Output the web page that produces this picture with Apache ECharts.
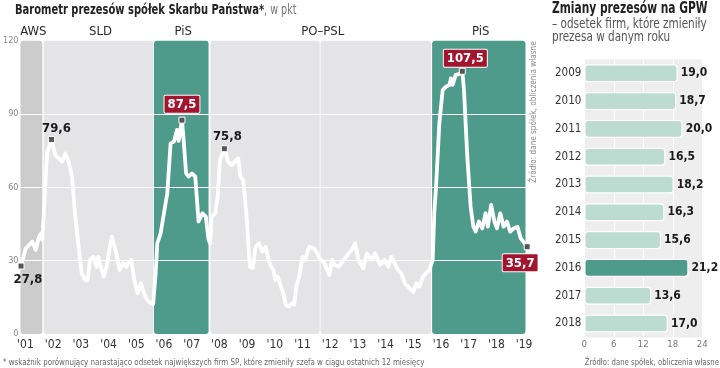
<!DOCTYPE html>
<html><head><meta charset="utf-8">
<script src="https://cdn.jsdelivr.net/npm/echarts/dist/echarts.min.js"></script>
<style>html,body{margin:0;padding:0;background:#fff}#c{width:720px;height:368px}</style>
</head><body><div id="c"></div>
<script>
// ---- DATA ----
const t = [
 2001.02,2001.19,2001.31,2001.43,2001.55,2001.67,2001.75,2001.79,2001.96,
 2002.12,2002.26,2002.38,2002.50,2002.62,2002.74,2002.86,2002.98,
 2003.10,2003.21,2003.33,2003.42,2003.51,2003.63,2003.75,2003.81,2003.93,
 2004.01,2004.11,2004.23,2004.30,2004.39,2004.46,2004.58,2004.70,2004.82,2004.89,
 2005.00,2005.11,2005.23,2005.35,2005.46,2005.58,2005.70,2005.79,2005.88,2005.94,
 2006.06,2006.18,2006.30,2006.42,2006.54,2006.65,2006.71,2006.83,2006.89,2006.98,
 2007.07,2007.19,2007.31,2007.43,2007.49,2007.57,2007.69,2007.79,2007.85,2007.90,
 2008.03,2008.12,2008.20,2008.36,2008.50,2008.62,2008.74,2008.86,2008.94,
 2009.04,2009.10,2009.18,2009.28,2009.39,2009.49,2009.61,2009.73,2009.85,2009.96,
 2010.05,2010.13,2010.20,2010.29,2010.40,2010.49,2010.58,2010.68,2010.80,2010.88,2010.96,
 2011.06,2011.18,2011.28,2011.42,2011.60,2011.71,2011.83,2011.95,
 2012.07,2012.15,2012.25,2012.35,2012.49,2012.67,2012.85,2012.96,
 2013.08,2013.20,2013.38,2013.50,2013.68,2013.80,2013.98,
 2014.15,2014.28,2014.39,2014.51,2014.63,2014.75,2014.87,2014.99,
 2015.11,2015.19,2015.29,2015.40,2015.53,2015.64,2015.76,2015.88,2015.94,
 2016.00,2016.12,2016.24,2016.36,2016.48,2016.54,2016.60,2016.71,2016.83,2016.95,
 2017.01,2017.13,2017.25,2017.35,2017.43,2017.55,2017.67,2017.79,2017.87,2017.99,
 2018.11,2018.20,2018.32,2018.44,2018.56,2018.68,2018.80,2018.94,
 2019.06,2019.15,2019.29];
const v = [
 27.8,35,36.4,37.8,34.4,39.8,41.2,38.5,73.9,
 79.6,73.2,71.9,70.5,73.9,70.5,64.4,48,
 35.7,24.8,22.1,22,30.3,31.5,27.5,31.6,26.2,
 23.5,27.5,35.7,39.8,36,33,26.2,28.9,27.5,29,
 30.3,22,16.6,20.7,16.6,13.9,12.6,12.2,24.8,37.1,
 41.2,49.4,57.6,78,78.7,83.5,79,87.5,79.4,65.7,
 64.4,65.7,64.4,46,45.4,49.4,48,38.5,37.1,48,
 49.4,56.2,71.2,75.8,70.5,69.1,70.5,71.9,64.4,
 63,56.2,45.3,27.5,27,35.7,37.1,33.7,35.7,30.3,
 27.5,26.2,22.1,23.5,19.4,16.6,11.9,11.2,12.6,12,19.4,
 23.5,31.6,30.3,35.7,35,33,30.3,29.6,
 26.2,24.2,30.3,28.2,27.5,30.3,33,34.4,
 37.1,30.3,26.9,33,30.3,33,28.2,
 30.3,27.5,31.6,28.9,26.2,24.8,20.7,19.4,
 18,17.3,20.7,19.4,23.5,24.8,26.2,30.3,50,
 60,86.2,99.8,101.2,101.9,104.6,101.9,106,106.3,107.5,
 99.8,72.5,52.1,43.9,41.9,46,43.2,49.4,43.9,52.8,
 46,43.2,49.4,43.9,46,41.9,43.2,43.9,
 39.1,37.8,35.7];
const annotYears = [2001.02, 2002.12, 2006.83, 2008.36, 2016.95, 2019.29];
const govParty = ['AWS','SLD','PiS','PO–PSL','PO–PSL','PiS'];
const govStart = [2001.0, 2001.84, 2005.82, 2007.86, 2011.83, 2015.86];
const govEnd   = [2001.79, 2005.80, 2007.79, 2011.80, 2015.82, 2019.23];
const yTicks = [0, 30, 60, 90, 120];

const barYears = ['2009','2010','2011','2012','2013','2014','2015','2016','2017','2018'];
const barValues = [19.0, 18.7, 20.0, 16.5, 18.2, 16.3, 15.6, 21.2, 13.6, 17.0];
const barTicks = [0, 6, 12, 18, 24];
const highlightYear = '2016';

// ---- STYLE ----
const F = "'DejaVu Sans Condensed','Liberation Sans Narrow',Roboto,sans-serif";
const partyColor = {'AWS':'#cccccc','SLD':'#e4e4e6','PO–PSL':'#e4e4e6','PiS':'#4e9b8c'};
const fmt = x => x.toFixed(1).replace('.', ',');

const bandLabels = [];
govParty.forEach((p,i)=>{
  if (i>0 && govParty[i-1]===p) { bandLabels[bandLabels.length-1].end = govEnd[i]; }
  else bandLabels.push({party:p, start:govStart[i], end:govEnd[i]});
});

const chart = echarts.init(document.getElementById('c'), null, {renderer:'canvas'});

const annotStyle = [
  {position:'bottom', offset:[7,0], boxed:false},
  {position:'top', offset:[5,3], boxed:false},
  {position:'top', offset:[0,0], boxed:true},
  {position:'top', offset:[3,2], boxed:false},
  {position:'top', offset:[3,3], boxed:true},
  {position:'bottom', offset:[-7,0], boxed:true}
];
const markData = annotYears.map((yr,k)=>{
  const i = t.indexOf(yr);
  const s = annotStyle[k];
  const lab = {show:true, formatter: fmt(v[i]), position:s.position, offset:s.offset, distance:4,
    fontFamily:F, fontWeight:'bold', fontSize:13};
  if (s.boxed) Object.assign(lab, {color:'#fff', backgroundColor:'#a3142e', borderColor:'#fff', borderWidth:1, padding:[2,3,1,3], borderRadius:1, lineHeight:14});
  else Object.assign(lab, {color:'#1a1a1a'});
  return {coord:[t[i], v[i]], value:v[i], label:lab};
});

const option = {
  animation:false,
  textStyle:{fontFamily:F},
  grid:[
    {left:15, top:40.7, width:515, height:293.3},
    {left:584.3, top:59.4, width:118, height:278, show:true, backgroundColor:'#eeeeee', borderWidth:0}
  ],
  xAxis:[
    {gridIndex:0, type:'value', min:2001, max:2001+515/28, interval:1,
     axisLine:{show:false}, axisTick:{show:false}, splitLine:{show:false},
     axisLabel:{formatter:x=>"'"+String(x).slice(2), color:'#333', fontSize:12, margin:5, padding:[0,0,0,10], fontFamily:F}},
    {gridIndex:1, type:'value', min:barTicks[0], max:barTicks[barTicks.length-1], interval:6,
     axisLine:{show:false}, axisTick:{show:false},
     splitLine:{show:true, lineStyle:{color:'#ffffff', width:1}},
     axisLabel:{color:'#777', fontSize:9.5, margin:2, fontFamily:F}}
  ],
  yAxis:[
    {gridIndex:0, type:'value', min:yTicks[0], max:yTicks[yTicks.length-1], interval:30,
     axisLine:{show:false}, axisTick:{show:false}, splitLine:{show:false},
     axisLabel:{color:'#888', fontSize:9, margin:2, fontFamily:F}},
    {gridIndex:1, type:'category', data:barYears, inverse:true,
     axisLine:{show:false}, axisTick:{show:false},
     axisLabel:{color:'#333', fontSize:11.5, margin:3, fontFamily:F}}
  ],
  series:[
    {type:'custom', xAxisIndex:0, yAxisIndex:0, z:1, clip:false, silent:true,
     data: govStart.map((s,i)=>[s, govEnd[i], yTicks[0], yTicks[yTicks.length-1]]),
     encode:{x:[0,1], y:[2,3]},
     renderItem:(params, api)=>{
       const a = api.coord([api.value(0), api.value(3)]);
       const b = api.coord([api.value(1), api.value(2)]);
       const i = params.dataIndex;
       const children = [{type:'rect', shape:{x:a[0], y:a[1], width:b[0]-a[0], height:b[1]-a[1], r:3},
         style:{fill: partyColor[govParty[i]]}}];
       const lab = bandLabels.find(l=>l.start===govStart[i]);
       if (lab) {
         const c1 = api.coord([lab.start, api.value(3)]), c2 = api.coord([lab.end, api.value(3)]);
         children.push({type:'text', style:{text:lab.party, x:(c1[0]+c2[0])/2+2, y:a[1]-9, align:'center', verticalAlign:'middle',
           fill:'#2a2a2a', font:"13px "+F}});
       }
       return {type:'group', children};
     }},
    {type:'line', xAxisIndex:0, yAxisIndex:0, z:3,
     data: t.map((x,i)=>[x, v[i]]),
     symbol:'none', lineStyle:{color:'#ffffff', width:3.8, join:'round', cap:'round'},
     markLine:{silent:true, symbol:'none', label:{show:false},
       lineStyle:{color:'#ffffff', width:1, type:'solid'},
       data: yTicks.slice(1,4).map(y=>({yAxis:y}))},
     markPoint:{symbol:'rect', symbolSize:6, silent:true,
       itemStyle:{color:'#555555', borderColor:'#ffffff', borderWidth:1},
       data: markData}},
    {type:'bar', xAxisIndex:1, yAxisIndex:1, barWidth:18, z:3,
     data: barValues.map((val,i)=>({value:val, itemStyle:{color: barYears[i]===highlightYear ? '#4e9b8c' : '#bcdcd2'}})),
     itemStyle:{borderColor:'#ffffff', borderWidth:1.2, borderRadius:3},
     label:{show:true, position:'right', distance:3, formatter:p=>fmt(p.value), color:'#1a1a1a', fontWeight:'bold', fontSize:12, fontFamily:F}}
  ],
  graphic:[
    {type:'text', x:15, y:10.5, scaleX:0.79, style:{
      text:'{b|Barometr prezesów spółek Skarbu Państwa*}{n|, w pkt}', verticalAlign:'middle',
      rich:{b:{fontFamily:F, fontWeight:'bold', fontSize:14, fill:'#222'}, n:{fontFamily:F, fontSize:13.5, fill:'#777'}}}},
    {type:'text', x:552, y:9.5, scaleX:0.79, style:{text:'Zmiany prezesów na GPW', verticalAlign:'middle', fontFamily:F, fontWeight:'bold', fontSize:15, fill:'#222'}},
    {type:'text', x:552, y:17.5, scaleX:0.86, style:{text:'– odsetek firm, które zmieniły\nprezesa w danym roku', fontFamily:F, fontSize:13.5, lineHeight:13.5, fill:'#555'}},
    {type:'text', x:534, y:112, rotation:Math.PI/2, scaleX:0.9, style:{text:'Źródło: dane spółek, obliczenia własne', align:'center', verticalAlign:'middle', fontFamily:F, fontSize:9, fill:'#888'}},
    {type:'text', x:3, y:363, scaleX:0.83, style:{text:'* wskaźnik porównujący narastająco odsetek największych firm SP, które zmieniły szefa w ciągu ostatnich 12 miesięcy', verticalAlign:'middle', fontFamily:F, fontSize:9.5, fill:'#666'}},
    {type:'text', x:719, y:363, scaleX:0.81, style:{text:'Źródło: dane spółek, obliczenia własne', align:'right', verticalAlign:'middle', fontFamily:F, fontSize:9.5, fill:'#666'}}
  ]
};
chart.setOption(option);
</script></body></html>
